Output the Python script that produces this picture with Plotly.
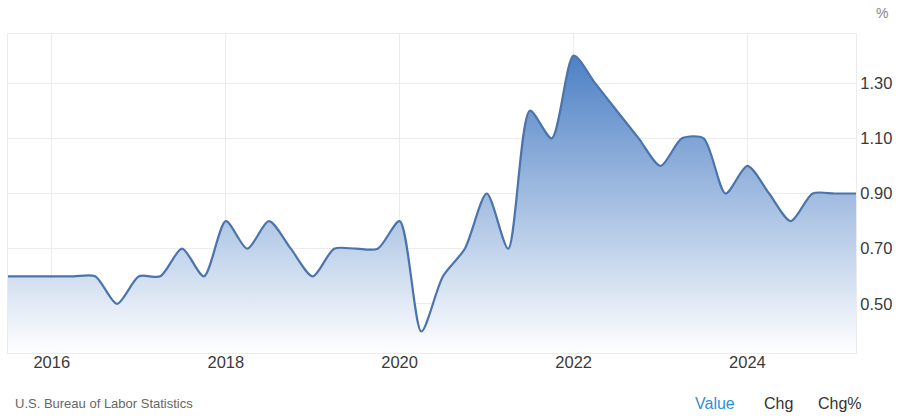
import plotly.graph_objects as go

dates = [
    "2015-07-01", "2015-10-01", "2016-01-01", "2016-04-01", "2016-07-01", "2016-10-01",
    "2017-01-01", "2017-04-01", "2017-07-01", "2017-10-01",
    "2018-01-01", "2018-04-01", "2018-07-01", "2018-10-01",
    "2019-01-01", "2019-04-01", "2019-07-01", "2019-10-01",
    "2020-01-01", "2020-04-01", "2020-07-01", "2020-10-01",
    "2021-01-01", "2021-04-01", "2021-07-01", "2021-10-01",
    "2022-01-01", "2022-04-01", "2022-07-01", "2022-10-01",
    "2023-01-01", "2023-04-01", "2023-07-01", "2023-10-01",
    "2024-01-01", "2024-04-01", "2024-07-01", "2024-10-01",
    "2025-01-01", "2025-04-01",
]
values = [
    0.6, 0.6, 0.6, 0.6, 0.6, 0.5,
    0.6, 0.6, 0.7, 0.6,
    0.8, 0.7, 0.8, 0.7,
    0.6, 0.7, 0.7, 0.7,
    0.8, 0.4, 0.6, 0.7,
    0.9, 0.7, 1.2, 1.1,
    1.4, 1.3, 1.2, 1.1,
    1.0, 1.1, 1.1, 0.9,
    1.0, 0.9, 0.8, 0.9,
    0.9, 0.9,
]
y_ticks = [0.5, 0.7, 0.9, 1.1, 1.3]
y_tick_labels = ["0.50", "0.70", "0.90", "1.10", "1.30"]
source = "U.S. Bureau of Labor Statistics"
buttons = ["Value", "Chg", "Chg%"]

fig = go.Figure()
fig.add_trace(go.Scatter(
    x=dates, y=values, mode="lines",
    line=dict(color="#4a74ab", width=2.2, shape="spline", smoothing=0.75),
    fill="tozeroy",
    fillgradient=dict(type="vertical", start=0.32, stop=1.42,
                      colorscale=[[0, "rgba(255,255,255,1)"], [1, "rgb(74,126,196)"]]),
    hoverinfo="skip", showlegend=False,
))

grid = "#ececec"
fig.update_layout(
    width=900, height=419,
    margin=dict(l=8, r=44, t=34, b=66),
    paper_bgcolor="white", plot_bgcolor="white",
    font=dict(family="Liberation Sans, Arial, sans-serif", color="#333333", size=16.5),
    xaxis=dict(
        type="date", range=["2015-07-01", "2025-04-01"],
        tick0="2016-01-01", dtick="M24", tickformat="%Y",
        showgrid=True, gridcolor=grid, gridwidth=1,
        showline=True, linecolor=grid, mirror=True,
        ticks="", tickfont=dict(size=16.5, color="#3a3a3a"),
        ticklabelstandoff=-6,
        zeroline=False, fixedrange=True,
    ),
    yaxis=dict(
        side="right", range=[0.322, 1.478],
        tickvals=y_ticks, ticktext=y_tick_labels,
        showgrid=True, gridcolor=grid, gridwidth=1,
        showline=True, linecolor=grid, mirror=True,
        ticks="", tickfont=dict(size=16.5, color="#3a3a3a"),
        zeroline=False, fixedrange=True,
    ),
    hovermode=False,
)

fig.add_annotation(text="%", xref="paper", yref="paper", x=(882 - 8) / 848, y=1.0,
                   yshift=21, xanchor="center", yanchor="middle", showarrow=False,
                   font=dict(size=14, color="#888888"))
fig.add_annotation(text=source, xref="paper", yref="paper", x=0, xshift=5,
                   y=0, yshift=-50, xanchor="left", yanchor="middle", showarrow=False,
                   font=dict(size=13, color="#666666"))
btn_x = [715, 778, 840]
btn_col = ["#2f8fd8", "#333333", "#333333"]
for label, bx, col in zip(buttons, btn_x, btn_col):
    fig.add_annotation(text=label, xref="paper", yref="paper",
                       x=(bx - 8) / 848, y=0, yshift=-50,
                       xanchor="center", yanchor="middle", showarrow=False,
                       font=dict(size=16, color=col))

fig.write_html(
    "out.html",
    config={"displayModeBar": False},
    post_script="document.body.style.margin='0';document.body.style.overflow='hidden';",
)
